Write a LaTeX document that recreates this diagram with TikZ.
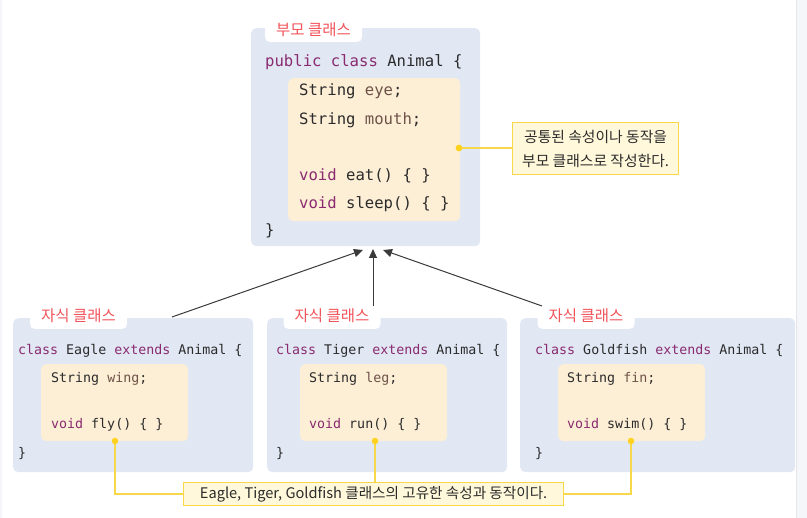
\documentclass[tikz,border=0pt]{standalone}
\usepackage{fontspec}
\setmonofont{DejaVu Sans Mono}
\newfontfamily\kr{Noto Sans CJK KR}
\usetikzlibrary{arrows.meta}
\definecolor{boxblue}{HTML}{E1E8F4}
\definecolor{boxorange}{HTML}{FDEED6}
\definecolor{kw}{HTML}{8A2A6F}
\definecolor{varc}{HTML}{6E5248}
\definecolor{txt}{HTML}{2B2B2B}
\definecolor{tabred}{HTML}{F2545B}
\definecolor{calloutfill}{HTML}{FFF8DA}
\definecolor{calloutline}{HTML}{F7D84A}
\definecolor{dotc}{HTML}{FFD21F}
\definecolor{edgegray}{HTML}{F5F6F9}
\definecolor{edgeline}{HTML}{E4E6EA}
\definecolor{arrowc}{HTML}{3A3A3A}
\begin{document}
\begin{tikzpicture}[x=1pt,y=-1pt,
  bluebox/.style={fill=boxblue, rounded corners=5pt, inner sep=0pt, anchor=north west},
  orangebox/.style={fill=boxorange, rounded corners=5pt, inner sep=0pt, anchor=north west},
  tabbox/.style={fill=white, rounded corners=5pt, inner sep=0pt, minimum width=97pt, minimum height=24pt},
  tablabel/.style={font=\kr\fontsize{15.5}{18}\selectfont, text=tabred, anchor=base, inner sep=0pt},
  codeT/.style={font=\ttfamily\fontsize{15.6}{18}\selectfont, text=txt, anchor=base west, inner sep=0pt},
  codeB/.style={font=\ttfamily\fontsize{13.3}{16}\selectfont, text=txt, anchor=base west, inner sep=0pt},
  callout/.style={fill=calloutfill, draw=calloutline, line width=1.2pt, inner sep=0pt, anchor=north west, text=txt, align=center},
  conn/.style={draw=calloutline, line width=1.2pt},
  ydot/.style={circle, fill=dotc, inner sep=0pt, minimum size=6.5pt},
  inherit/.style={draw=arrowc, line width=1pt, -{Triangle[length=9pt,width=8pt]}},
]
\useasboundingbox (0,0) rectangle (807,518);
\fill[white] (0,0) rectangle (807,518);
% page edges
\fill[edgegray] (796,0) rectangle (807,518);
\draw[edgeline, line width=1pt] (796.5,0) -- (796.5,518);
\fill[edgegray] (0,0) rectangle (2,518);

% ---------- parent class ----------
\node[bluebox, minimum width=229pt, minimum height=218pt] (animal) at (251,28) {};
\node[tabbox] (tabA) at (313.5,30) {};
\node[tablabel] (tabAtext) at (313.5,36) {부모 클래스};
\node[orangebox, minimum width=172pt, minimum height=143pt] (animalIn) at (288,78) {};
\node[codeT] (a1) at (265,67) {\textcolor{kw}{public class} Animal \{};
\node[codeT] (a2) at (299,96) {String \textcolor{varc}{eye};};
\node[codeT] (a3) at (299,125) {String \textcolor{varc}{mouth};};
\node[codeT] (a4) at (299,181) {\textcolor{kw}{void} eat() \{ \}};
\node[codeT] (a5) at (299,209) {\textcolor{kw}{void} sleep() \{ \}};
\node[codeT] (a6) at (265,236) {\}};

% callout top
\node[callout, minimum width=166pt, minimum height=52pt, font=\kr\fontsize{14.8}{24}\selectfont] (note1) at (512,122)
  {공통된 속성이나 동작을\\부모 클래스로 작성한다.};
\node[ydot] (dotA) at (459,148) {};
\draw[conn] (dotA) -- (dotA -| note1.west);
\node[ydot] at (459,148) {};

% ---------- child classes ----------
% Eagle
\node[bluebox, minimum width=240pt, minimum height=154pt] (eagle) at (13,318) {};
\node[tabbox] (tabE) at (78.5,317) {};
\node[tablabel] (tabEtext) at (78.5,322) {자식 클래스};
\node[orangebox, minimum width=147pt, minimum height=77pt] (eagleIn) at (41,364) {};
\node[codeB] (e1) at (18,355) {\textcolor{kw}{class} Eagle \textcolor{kw}{extends} Animal \{};
\node[codeB] (e2) at (51,383) {String \textcolor{varc}{wing};};
\node[codeB] (e3) at (51,429) {\textcolor{kw}{void} fly() \{ \}};
\node[codeB] (e4) at (18,458) {\}};

% Tiger
\node[bluebox, minimum width=240pt, minimum height=154pt] (tiger) at (267,318) {};
\node[tabbox] (tabT) at (332,317) {};
\node[tablabel] (tabTtext) at (332,322) {자식 클래스};
\node[orangebox, minimum width=147pt, minimum height=77pt] (tigerIn) at (300,364) {};
\node[codeB] (t1) at (276,355) {\textcolor{kw}{class} Tiger \textcolor{kw}{extends} Animal \{};
\node[codeB] (t2) at (309,383) {String \textcolor{varc}{leg};};
\node[codeB] (t3) at (309,429) {\textcolor{kw}{void} run() \{ \}};
\node[codeB] (t4) at (276,458) {\}};

% Goldfish
\node[bluebox, minimum width=275pt, minimum height=154pt] (gold) at (520,318) {};
\node[tabbox] (tabG) at (586,317) {};
\node[tablabel] (tabGtext) at (586,322) {자식 클래스};
\node[orangebox, minimum width=147pt, minimum height=77pt] (goldIn) at (558,364) {};
\node[codeB] (g1) at (535,355) {\textcolor{kw}{class} Goldfish \textcolor{kw}{extends} Animal \{};
\node[codeB] (g2) at (567,383) {String \textcolor{varc}{fin};};
\node[codeB] (g3) at (567,429) {\textcolor{kw}{void} swim() \{ \}};
\node[codeB] (g4) at (535,458) {\}};

% ---------- inheritance arrows ----------
\coordinate (eStart) at (172,317);
\coordinate (tStart) at (373,306);
\coordinate (gStart) at (542,306);
\coordinate (eEnd) at (363,250);
\coordinate (tEnd) at (373,249);
\coordinate (gEnd) at (383,250);
\draw[inherit] (eStart) -- (eEnd);
\draw[inherit] (tStart) -- (tEnd);
\draw[inherit] (gStart) -- (gEnd);

% ---------- bottom callout ----------
\node[callout, minimum width=380pt, minimum height=23pt, font=\kr\fontsize{14.6}{16}\selectfont] (note2) at (183,482)
  {Eagle, Tiger, Goldfish 클래스의 고유한 속성과 동작이다.};
\coordinate (dotEc) at (115,441);
\coordinate (dotTc) at (375,441);
\coordinate (dotGc) at (631,441);
\draw[conn] (dotEc) |- (note2.west);
\draw[conn] (dotTc) -- (dotTc |- note2.north);
\draw[conn] (dotGc) |- (note2.east);
\node[ydot] (dotE) at (dotEc) {};
\node[ydot] (dotT) at (dotTc) {};
\node[ydot] (dotG) at (dotGc) {};
\end{tikzpicture}
\end{document}
